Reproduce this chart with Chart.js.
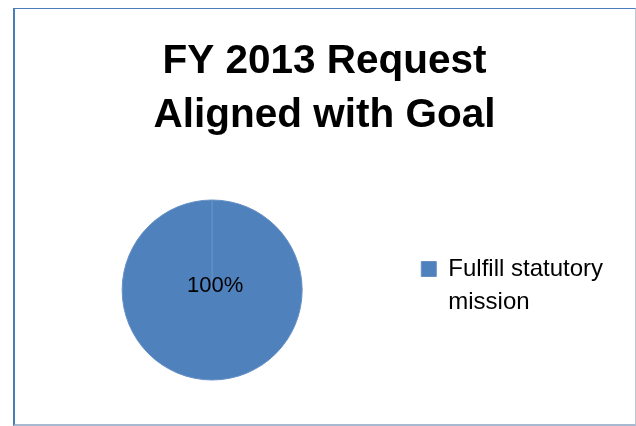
<!DOCTYPE html>
<html>
<head>
<meta charset="utf-8">
<script src="https://cdn.jsdelivr.net/npm/chart.js@4"></script>
<style>
  html, body { margin: 0; padding: 0; background: #fff; }
  #frame {
    position: absolute; left: 13px; top: 8px; width: 623px; height: 418px;
    box-sizing: border-box;
    border-left: 2px solid #4a7ebb;
    border-top: 1px solid #4a7ebb;
    border-right: 1px solid #bcc6d3;
    border-bottom: 2px solid #a7b9d1;
  }
  #wrap { position: absolute; left: 0; top: 0; width: 636px; height: 426px; }
</style>
</head>
<body>
<div id="frame"></div>
<div id="wrap"><canvas id="grafico"></canvas></div>
<script>
// Dados do gráfico
const titulo = ['FY 2013 Request', 'Aligned with Goal'];
const categorias = [['Fulfill statutory', 'mission']];
const valores = [100];
const cores = ['#4f81bd'];

const fonte = 'Liberation Sans, Arial, sans-serif';

// Rótulo de porcentagem dentro da fatia
const rotuloPorcentagem = {
  id: 'rotuloPorcentagem',
  afterDatasetsDraw(chart) {
    const ctx = chart.ctx;
    const meta = chart.getDatasetMeta(0);
    const total = valores.reduce((s, v) => s + v, 0);
    ctx.save();
    ctx.font = '22px ' + fonte;
    ctx.fillStyle = '#000';
    ctx.textAlign = 'center';
    ctx.textBaseline = 'middle';
    meta.data.forEach((arco, i) => {
      const pct = Math.round(valores[i] / total * 100) + '%';
      let pos;
      if (arco.circumference >= Math.PI * 2 - 0.001) {
        pos = { x: arco.x + 3, y: arco.y - 4 };
      } else {
        pos = arco.tooltipPosition();
      }
      ctx.fillText(pct, pos.x, pos.y);
    });
    ctx.restore();
  }
};

new Chart(document.getElementById('grafico').getContext('2d'), {
  type: 'pie',
  data: {
    labels: categorias,
    datasets: [{
      data: valores,
      backgroundColor: cores,
      borderColor: '#6690c6',
      borderWidth: 1,
      radius: 90
    }]
  },
  options: {
    responsive: true,
    maintainAspectRatio: false,
    animation: false,
    layout: {
      padding: { left: 36, right: 23, top: 0, bottom: 0 }
    },
    plugins: {
      title: {
        display: true,
        text: titulo,
        color: '#000',
        font: { family: fonte, size: 40.5, weight: 'bold', lineHeight: 1.321 },
        padding: { top: 35.5, bottom: 11.5 }
      },
      legend: {
        position: 'right',
        fullSize: false,
        labels: {
          color: '#000',
          font: { family: fonte, size: 24, lineHeight: 1.375 },
          boxWidth: 15,
          boxHeight: 15,
          padding: 33
        }
      },
      tooltip: { enabled: false }
    }
  },
  plugins: [rotuloPorcentagem]
});
</script>
</body>
</html>
